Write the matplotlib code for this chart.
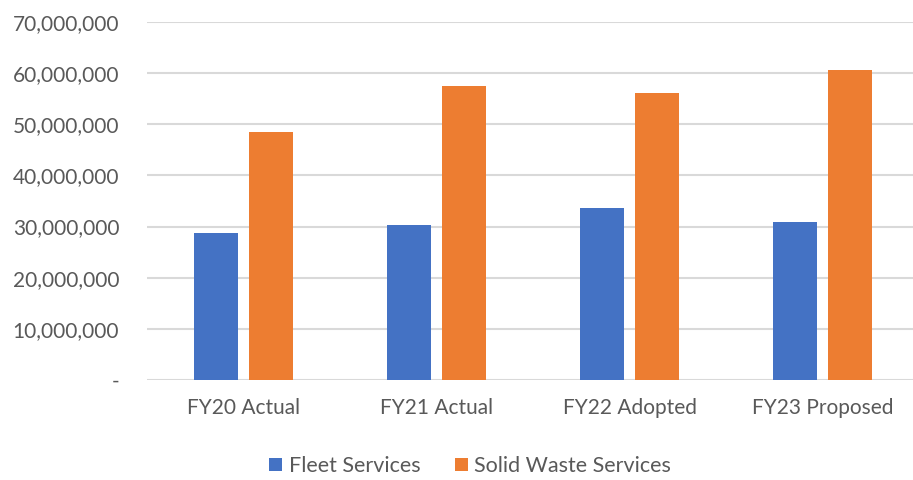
import matplotlib.pyplot as plt
import numpy as np
from matplotlib.ticker import FuncFormatter

# data
categories = ['FY20 Actual', 'FY21 Actual', 'FY22 Adopted', 'FY23 Proposed']
fleet = [28.8e6, 30.3e6, 33.7e6, 30.9e6]
solid_waste = [48.4e6, 57.4e6, 56.2e6, 60.7e6]
series_names = ['Fleet Services', 'Solid Waste Services']

plt.rcParams['font.family'] = ['Lato', 'DejaVu Sans']
text_color = '#595959'

fig = plt.figure(figsize=(9.13, 4.8), dpi=100)
left = 147 / 913
ax = fig.add_axes([left, 1 - 380 / 480, 1 - left, (380 - 22) / 480])

x = np.arange(len(categories))
w = 0.223
off = 0.1425
ax.bar(x - off, fleet, w, color='#4472C4', label=series_names[0], zorder=3)
ax.bar(x + off, solid_waste, w, color='#ED7D31', label=series_names[1], zorder=3)

ax.set_xlim(-0.5, -0.5 + (913 - 147) / 193)
ax.set_ylim(0, 70e6)
ax.set_yticks(np.arange(0, 70e6 + 1, 10e6))
ax.yaxis.set_major_formatter(FuncFormatter(lambda v, p: '-' if v == 0 else f'{v:,.0f}'))
ax.set_xticks(x)
ax.set_xticklabels(categories)

ax.grid(axis='y', color='#d9d9d9', linewidth=1.5, zorder=0)
for s in ax.spines.values():
    s.set_visible(False)
ax.tick_params(axis='both', length=0, labelsize=15, colors=text_color)
ax.tick_params(axis='y', pad=20)
ax.tick_params(axis='x', pad=13)

fig.legend(loc='center', bbox_to_anchor=(470 / 913, 1 - 466 / 480), ncol=2, frameon=False,
           fontsize=15.5, labelcolor=text_color, handlelength=0.6, handleheight=0.6,
           handletextpad=0.3, columnspacing=1.6)

plt.savefig('out.png', dpi=100)
